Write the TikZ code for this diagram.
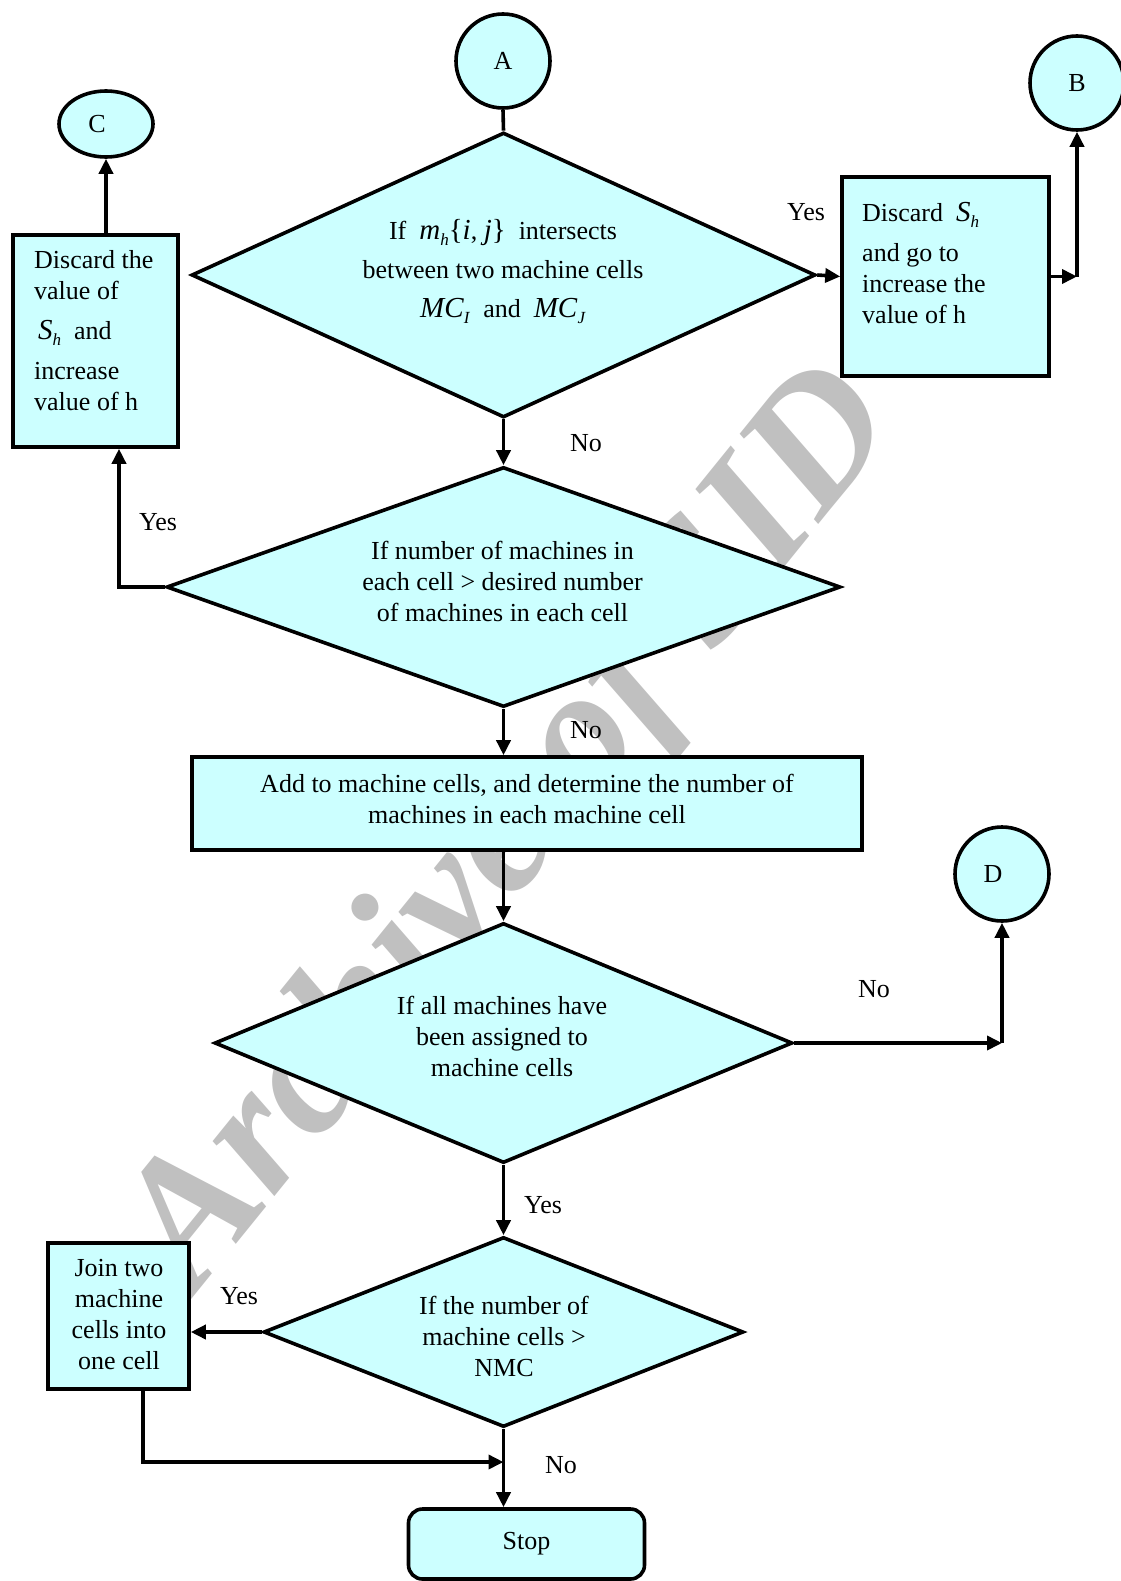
\documentclass[tikz,border=0pt]{standalone}
\usepackage{fontspec}
\setmainfont{Liberation Serif}
\usetikzlibrary{shapes.geometric,arrows.meta,calc}
\definecolor{cfill}{RGB}{204,255,255}
\definecolor{wmgray}{RGB}{192,192,192}
\newcommand\mvar[1]{{\fontsize{29}{31}\selectfont\textit{#1}}}
\newcommand\msub[1]{\raisebox{-6pt}{\fontsize{17}{17}\selectfont\textit{#1}}}
\newcommand\mbr[1]{{\fontsize{29}{31}\selectfont #1}}
\begin{document}
\begin{tikzpicture}[x=1pt,y=-1pt,
  every node/.style={font=\fontsize{26}{31}\selectfont},
  shp/.style={draw, line width=3.6pt, fill=cfill, inner sep=0pt},
  circ/.style={shp, circle, minimum size=94pt},
  dia/.style={shp, diamond},
  boxx/.style={shp, rectangle},
  txt/.style={align=center, inner sep=0pt},
  lbl/.style={inner sep=0pt},
  arr/.style={line width=3.6pt, -{Triangle[length=15pt,width=14pt]}},
  ln/.style={line width=3.6pt},
]
\useasboundingbox (0,0) rectangle (1120,1581);
% watermark
\node[rotate=51, anchor=center, inner sep=0pt, text=wmgray,
  font=\fontsize{180}{180}\selectfont\bfseries\itshape] (wm) at (515,830) {Archive of SID};

% shapes
\node[circ] (A) at (503,61) {A};
\node[circ] (B) at (1077,83) {B};
\node[shp, ellipse, minimum width=94pt, minimum height=66pt] (C) at (106,124) {C\hspace*{18pt}};
\node[circ] (D) at (1002,874) {D\hspace*{18pt}};

\node[dia, minimum width=624pt, minimum height=285pt] (d1) at (503.5,275) {};
\node[txt] (t1) at (503,272) {If\enspace\mvar{m}\msub{h}\mbr{\{}\mvar{i}, \mvar{j}\mbr{\}}\enspace intersects\\[8pt] between two machine cells\\[8pt] \mvar{MC}\msub{I}\enspace and\enspace\mvar{MC}\msub{J}};

\node[boxx, minimum width=207pt, minimum height=199pt] (bB) at (945.5,276.5) {};
\node[lbl, align=left, anchor=west] (tB) at (862,263) {Discard\enspace\mvar{S}\msub{h}\\[9pt] and go to\\increase the\\value of h};

\node[boxx, minimum width=165pt, minimum height=212pt] (bC) at (95.5,341) {};
\node[lbl, align=left, anchor=west] (tC) at (34,331) {Discard the\\value of\\[9pt] \hspace*{4pt}\mvar{S}\msub{h}\enspace and\\[9pt] increase\\value of h};

\node[dia, minimum width=674pt, minimum height=240pt] (d2) at (503.5,587) {};
\node[txt] (t2) at (502.5,581) {If number of machines in\\each cell > desired number\\of machines in each cell};

\node[boxx, minimum width=670pt, minimum height=93pt] (b3) at (527,803.5) {};
\node[txt] (t3) at (527,799) {Add to machine cells, and determine the number of\\machines in each machine cell};

\node[dia, minimum width=578pt, minimum height=240pt] (d3) at (503.5,1043) {};
\node[txt] (t4) at (502,1036) {If all machines have\\been assigned to\\machine cells};

\node[dia, minimum width=480pt, minimum height=190pt] (d4) at (503.5,1332) {};
\node[txt] (t5) at (504,1336) {If the number of\\machine cells >\\NMC};

\node[boxx, minimum width=141pt, minimum height=146pt] (bJ) at (118.5,1316) {};
\node[txt] (tJ) at (119,1315) {Join two\\machine\\cells into\\one cell};

\node[boxx, rounded corners=14pt, minimum width=236pt, minimum height=70pt] (stop) at (526.5,1544) {Stop};

% connectors
\draw[ln] (A.south) -- (d1.north);
\draw[arr] (d1.east) -- (bB.west);
\coordinate (cB) at (B.south |- bB.east);
\draw[arr] (bB.east) -- (cB);
\draw[arr] (cB) -- (B.south);
\draw[arr] (d1.south) -- (d2.north);
\draw[arr] (d2.west) -| ([xshift=23.5pt]bC.south);
\draw[arr] (C.south |- bC.north) -- (C.south);
\draw[arr] (d2.south) -- (d2.south |- b3.north);
\draw[arr] (d3.north |- b3.south) -- (d3.north);
\coordinate (cD) at (D.south |- d3.east);
\draw[arr] (d3.east) -- (cD);
\draw[arr] (cD) -- (D.south);
\draw[arr] (d3.south) -- (d4.north);
\draw[arr] (d4.west) -- (d4.west -| bJ.east);
\coordinate (jb) at ([xshift=24.5pt]bJ.south);
\coordinate (cM) at (d4.south |- 0,1462);
\draw[arr] (jb) |- (cM);
\draw[arr] (d4.south) -- (d4.south |- stop.north);

% labels
\node[lbl] (y1) at (806,212) {Yes};
\node[lbl] (n1) at (586,443) {No};
\node[lbl] (y2) at (158,522) {Yes};
\node[lbl] (n2) at (586,730) {No};
\node[lbl] (n3) at (874,989) {No};
\node[lbl] (y3) at (543,1205) {Yes};
\node[lbl] (y4) at (239,1296) {Yes};
\node[lbl] (n4) at (561,1465) {No};
\end{tikzpicture}
\end{document}
